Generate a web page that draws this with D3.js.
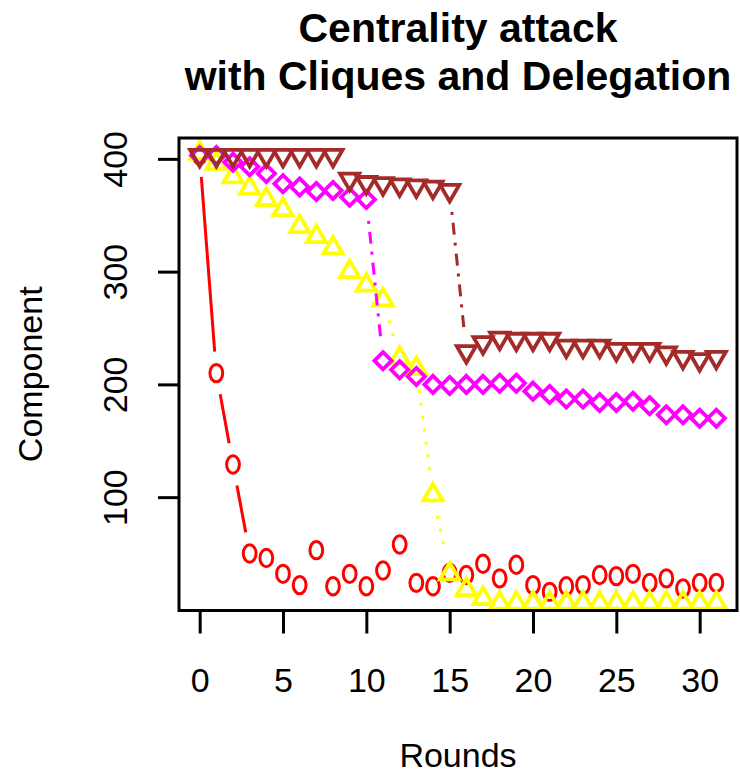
<!DOCTYPE html>
<html><head><meta charset="utf-8">
<script src="https://cdn.jsdelivr.net/npm/d3@7"></script>
<style>body{margin:0;background:#fff}svg{display:block}</style>
</head><body>
<script>
// ---- data ----
const rounds = [0,1,2,3,4,5,6,7,8,9,10,11,12,13,14,15,16,17,18,19,20,21,22,23,24,25,26,27,28,29,30,31];
const redValues = [403,210,129,50,46,32,22,53,21,32,21,35,58,24,21,33,31,41,28,40,22,16,21,22,31,30,32,24,28,19,24,24];
const yellowValues = [405,396,384,374,364,355,340,331,321,300,288,275,223,214,102,32,18,10,6,6,6,6,6,6,6,6,6,6,6,6,6,6];
const magentaValues = [403,403,397,393,387,378,375,371,372,366,364,221,213,207,200,199,200,200,201,201,194,191,187,187,184,184,185,181,173,173,170,170];
const brownValues = [403,403,403,403,403,403,403,403,403,382,379,378,377,376,375,372,229,237,241,240,240,240,234,234,234,231,231,231,228,224,222,224];
const xTicks = [0,5,10,15,20,25,30];
const yTicks = [100,200,300,400];
const titleLines = ["Centrality attack","with Cliques and Delegation"];
const xLabel = "Rounds", yLabel = "Component";

const series = [
  {name:"red", values:redValues, color:"#FF0000", shape:"o", dash:null},
  {name:"yellow", values:yellowValues, color:"#FFFF00", shape:"up", dash:"3,10"},
  {name:"magenta", values:magentaValues, color:"#FF00FF", shape:"diamond", dash:"3,8,12,8"},
  {name:"brown", values:brownValues, color:"#A52A2A", shape:"down", dash:"3,8,12,8"}
];

const W=740, H=775;
const FONT = "'Liberation Sans', Arial, Helvetica, sans-serif";
const L=179, R=737, T=138, B=610.5;
const svg = d3.select("body").append("svg").attr("width",W).attr("height",H)
  .style("font-family",FONT);

const x = d3.scaleLinear().domain([-1.24,32.24]).range([L,R]);
const y = d3.scaleLinear().domain([-0.52,418.5]).range([B,T]);

svg.append("defs").append("clipPath").attr("id","plotclip")
  .append("rect").attr("x",L).attr("y",T).attr("width",R-L).attr("height",B-T);

const plot = svg.append("g").attr("clip-path","url(#plotclip)");

const GAP = 21.5;
series.forEach(s=>{
  const g = plot.append("g");
  // type="b" segments with gaps around points
  for(let i=0;i<rounds.length-1;i++){
    const x0=x(rounds[i]), y0=y(s.values[i]), x1=x(rounds[i+1]), y1=y(s.values[i+1]);
    const dx=x1-x0, dy=y1-y0, len=Math.hypot(dx,dy);
    if(len>2*GAP+2){
      const ux=dx/len, uy=dy/len;
      g.append("line")
        .attr("x1",x0+ux*GAP).attr("y1",y0+uy*GAP)
        .attr("x2",x1-ux*GAP).attr("y2",y1-uy*GAP)
        .attr("stroke",s.color).attr("stroke-width",3)
        .attr("stroke-dasharray",s.dash);
    }
  }
  const pts = g.selectAll(".pt").data(rounds.map((r,i)=>({r,v:s.values[i]}))).enter();
  const sz = 7.1;
  if(s.shape==="o"){
    pts.append("ellipse").attr("cx",d=>x(d.r)).attr("cy",d=>y(d.v))
      .attr("rx",6.4).attr("ry",8.7).attr("fill","none").attr("stroke",s.color).attr("stroke-width",3);
  } else {
    const path = d=>{
      const cx=x(d.r), cy=y(d.v);
      if(s.shape==="diamond"){
        const r=8.6;
        return `M${cx},${cy-r}L${cx+r},${cy}L${cx},${cy+r}L${cx-r},${cy}Z`;
      }
      const r=1.5551*sz, xc=1.3468*sz, yc=0.7776*sz;
      if(s.shape==="up") return `M${cx},${cy-r}L${cx+xc},${cy+yc}L${cx-xc},${cy+yc}Z`;
      return `M${cx},${cy+r}L${cx+xc},${cy-yc}L${cx-xc},${cy-yc}Z`;
    };
    pts.append("path").attr("d",path).attr("fill","none")
      .attr("stroke",s.color).attr("stroke-width",3.8).attr("stroke-linejoin","miter");
  }
});

// box
svg.append("rect").attr("x",L).attr("y",T).attr("width",R-L).attr("height",B-T)
  .attr("fill","none").attr("stroke","#000").attr("stroke-width",3);

// x axis
const xa = svg.append("g").attr("transform",`translate(0,${B})`)
  .call(d3.axisBottom(x).tickValues(xTicks).tickSize(23).tickPadding(34).tickFormat(d3.format("d")));
xa.select(".domain").remove();
xa.selectAll(".tick line").attr("stroke","#000").attr("stroke-width",3);
xa.selectAll(".tick text").attr("font-size",34).attr("font-family",FONT).attr("fill","#000");

// y axis
const ya = svg.append("g").attr("transform",`translate(${L},0)`)
  .call(d3.axisLeft(y).tickValues(yTicks).tickSize(21).tickFormat(d3.format("d")));
ya.select(".domain").remove();
ya.selectAll(".tick line").attr("stroke","#000").attr("stroke-width",3);
ya.selectAll(".tick text").attr("x",null).attr("dy",null)
  .attr("transform","translate(-52.5,0) rotate(-90)")
  .attr("text-anchor","middle").attr("font-size",34).attr("font-family",FONT).attr("fill","#000");

// titles
svg.selectAll(".title").data(titleLines).enter().append("text")
  .attr("x",(L+R)/2).attr("y",(d,i)=>41.5+i*48.5)
  .attr("text-anchor","middle").attr("font-weight","bold").attr("font-size",41)
  .text(d=>d);

svg.append("text").attr("x",(L+R)/2).attr("y",767).attr("text-anchor","middle")
  .attr("font-size",34).text(xLabel);
svg.append("text").attr("transform",`translate(42,${(T+B)/2}) rotate(-90)`)
  .attr("text-anchor","middle").attr("font-size",34).text(yLabel);
</script>
</body></html>
